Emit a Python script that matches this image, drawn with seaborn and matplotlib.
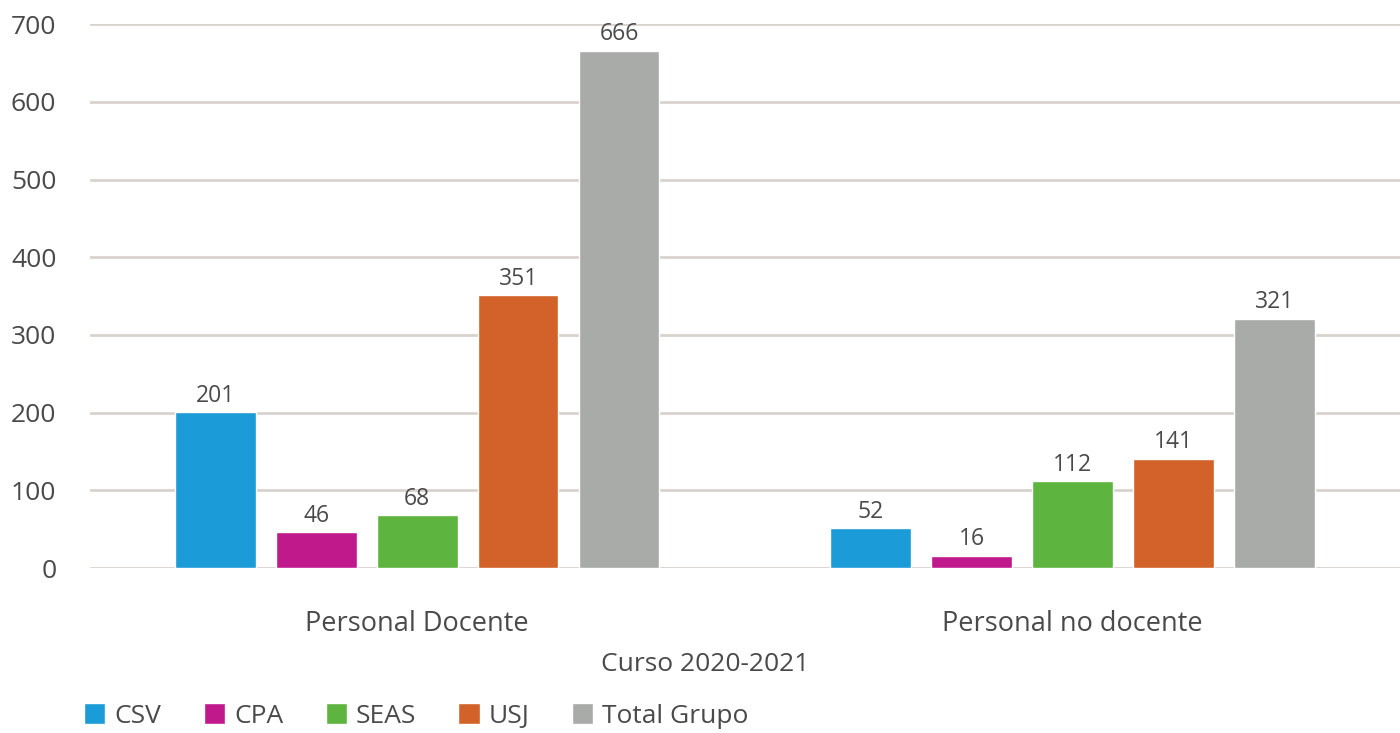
import numpy as np
import pandas as pd
import matplotlib
matplotlib.use("Agg")
import matplotlib.pyplot as plt
import seaborn as sns

# datos
categorias = ["Personal Docente", "Personal no docente"]
entidades = ["CSV", "CPA", "SEAS", "USJ", "Total Grupo"]
csv = [201, 52]
cpa = [46, 16]
seas = [68, 112]
usj = [351, 141]
total = [666, 321]
colores = ["#1b9bd7", "#c0198b", "#5db43e", "#d3622a", "#a9aba9"]

filas = []
for nombre, vals in zip(entidades, [csv, cpa, seas, usj, total]):
    for cat, v in zip(categorias, vals):
        filas.append({"categoria": cat, "entidad": nombre, "valor": v})
df = pd.DataFrame(filas)

sns.set_theme(style="white")
plt.rcParams["font.family"] = ["Open Sans", "DejaVu Sans"]
gris = "#4a4a4a"

fig = plt.figure(figsize=(14, 7.33), dpi=100)
ax = fig.add_axes([0.064, 0.225, 0.936, 0.742])

sns.barplot(data=df, x="categoria", y="valor", hue="entidad",
            hue_order=entidades, palette=colores, width=0.77, gap=0.2,
            saturation=1, ax=ax, zorder=3)

for cont in ax.containers:
    ax.bar_label(cont, padding=3, fontsize=16.5, color=gris)

ax.set_ylim(0, 700)
ax.set_xlim(-0.5, 1.5)
ax.set_yticks(np.arange(0, 701, 100))
ax.yaxis.grid(True, color="#d9d3cf", linewidth=2, zorder=0)
sns.despine(ax=ax, left=True, bottom=True, top=True, right=True)
ax.tick_params(axis="y", labelsize=19, labelcolor=gris, length=0, pad=24)
ax.tick_params(axis="x", labelsize=19.5, labelcolor=gris, length=0, pad=30)
ax.set_ylabel("")
ax.set_xlabel("Curso 2020-2021", fontsize=19, color=gris)
ax.xaxis.set_label_coords(0.47, -0.155)

ax.legend(loc="lower left", bbox_to_anchor=(-0.006, -0.3), ncol=5,
          frameon=False, fontsize=19, labelcolor=gris, handlelength=0.8,
          handleheight=0.8, handletextpad=0.35, columnspacing=1.6,
          borderaxespad=0, borderpad=0.1)

fig.savefig("out.png", dpi=100)
